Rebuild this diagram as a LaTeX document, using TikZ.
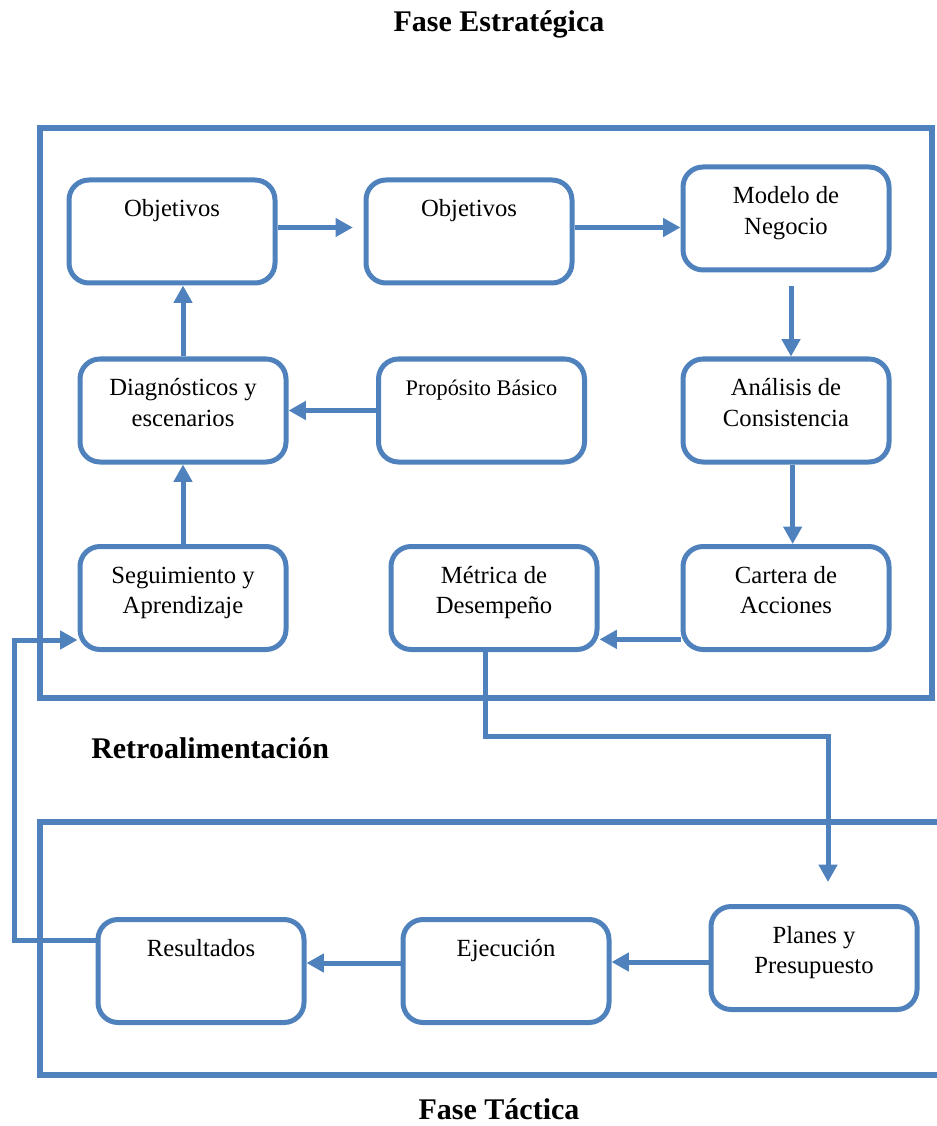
\documentclass[tikz,border=0pt]{standalone}
\usepackage{fontspec}
\setmainfont{Liberation Serif}
\usepackage{tikz}
\usetikzlibrary{
	arrows.meta,
	positioning,
	calc
}
\definecolor{PhaseBlue}{HTML}{4F81BD}
\newcommand{\boxtext}[1]{\parbox[t][62.45pt][t]{142.5pt}{\centering\rule{0pt}{20pt}#1}}

\begin{document}
\begin{tikzpicture}[
 x=0.75pt,y=-0.75pt,
 stepbox/.style={draw=PhaseBlue,line width=3.75pt,rounded corners=15pt,fill=white,
   inner xsep=6pt,inner ysep=7.4pt,minimum width=154.5pt,minimum height=77.25pt,
   font=\fontsize{18.5}{22.9}\selectfont},
 phaseframe/.style={draw=PhaseBlue,line width=4.2pt},
 phasetitle/.style={font=\fontsize{22.5}{26}\selectfont\bfseries,inner sep=0pt},
 flow/.style={-{Triangle[length=13pt,width=13.5pt]},draw=PhaseBlue,line width=3.75pt}
]
 \useasboundingbox (0,0) rectangle (937,1126);
 % frames of the two phases
 \draw[phaseframe] (40,128) rectangle (932,698);
 \draw[phaseframe] (937,822) -- (40,822) -- (40,1075) -- (937,1075);
 \node[phasetitle,anchor=base] (estrat) at (499,32) {Fase Estratégica};
 \node[phasetitle,anchor=base west] (retro) at (91,758) {Retroalimentación};
 \node[phasetitle,anchor=base] (tact) at (499,1119) {Fase Táctica};
 % strategic phase
 \node[stepbox] (obj1) at (172,231.5) {\boxtext{Objetivos}};
 \node[stepbox] (obj2) at (469,231.5) {\boxtext{Objetivos}};
 \node[stepbox] (modelo) at (786,218.5) {\boxtext{Modelo de\\Negocio}};
 \node[stepbox] (diag) at (183,410.5) {\boxtext{Diagnósticos y\\escenarios}};
 \node[stepbox] (prop) at (481.5,410.5)
   {\boxtext{\fontsize{16.7}{20}\selectfont Propósito Básico}};
 \node[stepbox] (anal) at (786,410.5) {\boxtext{Análisis de\\Consistencia}};
 \node[stepbox] (segu) at (183,598) {\boxtext{Seguimiento y\\Aprendizaje}};
 \node[stepbox] (metr) at (494,598) {\boxtext{Métrica de\\Desempeño}};
 \node[stepbox] (cart) at (786,598) {\boxtext{Cartera de\\Acciones}};
 % tactical phase
 \node[stepbox] (resu) at (201,971) {\boxtext{Resultados}};
 \node[stepbox] (ejec) at (506,971) {\boxtext{Ejecución}};
 \node[stepbox] (plan) at (814,958) {\boxtext{Planes y\\Presupuesto}};
 \coordinate (bend) at (828,736);
 \coordinate (fbx) at (14,0);
 \draw[flow,shorten >=8pt] ([yshift=3pt]obj1.east) -- ([yshift=3pt]obj2.west);
 \draw[flow] ([yshift=3pt]obj2.east) -- ([yshift=3pt]obj2.east -| modelo.west);
 \draw[flow,shorten <=10pt] ([xshift=3.75pt]modelo.south) -- ([xshift=3.75pt]anal.north);
 \draw[flow] ([xshift=5pt]anal.south) -- ([xshift=5pt]cart.north);
 \draw[flow] ([yshift=-31pt]cart.west) -- ([yshift=-31pt]cart.west -| metr.east);
 \draw[flow] (prop.west) -- (diag.east);
 \draw[flow] (diag.north) -- (diag.north |- obj1.south);
 \draw[flow] (segu.north) -- (segu.north |- diag.south);
 \draw[flow,shorten >=16.5pt] ([xshift=-6.75pt]metr.south) |- (bend) -- (bend |- plan.north);
 \draw[flow] ([yshift=-3pt]plan.west) -- ([yshift=-3pt]plan.west -| ejec.east);
 \draw[flow] ([yshift=6pt]ejec.west) -- ([yshift=6pt]ejec.west -| resu.east);
 \draw[flow] ([yshift=23pt]resu.west) -- ([yshift=23pt]resu.west -| fbx)
   -- ([yshift=-31.5pt]segu.west -| fbx) -- ([yshift=-31.5pt]segu.west);
\end{tikzpicture}
\end{document}
